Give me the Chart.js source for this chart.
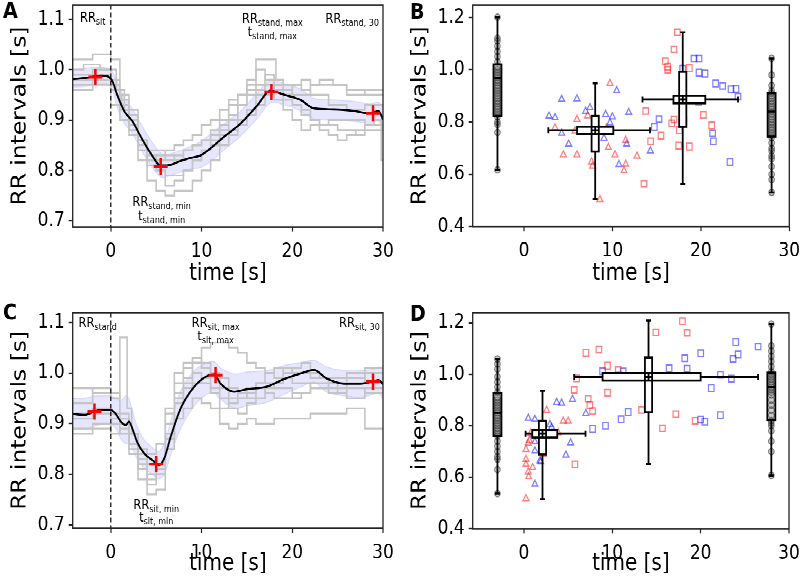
<!DOCTYPE html>
<html>
<head>
<meta charset="utf-8">
<script src="https://cdn.jsdelivr.net/npm/chart.js@4.4.1/dist/chart.umd.min.js"></script>
<style>
html, body { margin: 0; padding: 0; background: #fff; overflow: hidden; }
#fig { position: absolute; left: 0; top: 0; width: 800px; height: 500px; transform: scale(1, 1.168); transform-origin: 0 0; }
#fig canvas { position: absolute; }
</style>
</head>
<body>
<div id="fig">
<canvas id="chartA" width="400" height="248" style="left:0;top:0;width:400px;height:248px"></canvas>
<canvas id="chartB" width="400" height="248" style="left:400px;top:0;width:400px;height:248px"></canvas>
<canvas id="chartC" width="400" height="252" style="left:0;top:248px;width:400px;height:252px"></canvas>
<canvas id="chartD" width="400" height="252" style="left:400px;top:248px;width:400px;height:252px"></canvas>
</div>
<script>
Chart.defaults.font.family = "'DejaVu Sans', sans-serif";
Chart.defaults.color = '#000';

// ---------- panel A : sit -> stand, averaged RR curve
const aMeanX = [-4.2,-2.6,-1.1,-0.4,0.2,0.7,1.5,2.4,3.3,4.4,5.5,6.2,7.7,8.8,9.9,11.0,12.5,14.3,16.1,17.6,19.1,20.9,22.4,24.6,26.8,28.6,29.5,30];
const aMeanY = [0.981,0.984,0.988,0.987,0.976,0.950,0.917,0.897,0.867,0.834,0.810,0.810,0.819,0.825,0.830,0.844,0.867,0.893,0.928,0.958,0.950,0.940,0.923,0.921,0.918,0.913,0.918,0.901];
const aBandHi = [1.000,1.003,1.005,1.003,0.995,0.975,0.945,0.922,0.893,0.860,0.835,0.832,0.840,0.848,0.857,0.872,0.893,0.918,0.953,0.980,0.972,0.962,0.943,0.940,0.937,0.932,0.935,0.925];
const aBandLo = [0.965,0.967,0.972,0.972,0.958,0.925,0.893,0.873,0.842,0.810,0.787,0.788,0.797,0.803,0.806,0.818,0.841,0.868,0.902,0.934,0.930,0.918,0.902,0.900,0.897,0.893,0.898,0.880];
const aTraces = [
  [[-4.2,0.99],[-3,1.0],[-1.2,1.01],[0.6,1.0],[1.2,0.95],[2,0.93],[3,0.89],[4,0.84],[5,0.82],[6,0.83],[7,0.84],[8,0.85],[9,0.86],[10,0.87],[11,0.89],[12,0.9],[13,0.92],[14,0.94],[15,0.95],[16,0.97],[17,1.02],[18.2,1.02],[19,0.98],[20,0.96],[21,0.97],[22,0.98],[23,0.97],[24.5,0.98],[26,0.97],[28,0.96],[30,0.95]],
  [[-4.2,0.97],[-2,0.97],[0,0.97],[1,0.93],[2,0.90],[3,0.87],[4,0.82],[5,0.78],[6,0.76],[7,0.75],[8,0.76],[9,0.76],[10,0.78],[11,0.8],[12,0.82],[13,0.85],[14,0.87],[15,0.89],[16,0.91],[17,0.93],[18,0.95],[19,0.94],[20,0.92],[21,0.9],[22,0.88],[23,0.89],[24,0.88],[25,0.87],[26,0.86],[27,0.87],[28,0.88],[29,0.89],[29.8,0.9],[30,0.82]],
  [[-4.2,1.0],[-2,1.02],[0,1.03],[1,1.02],[1.5,0.96],[2,0.92],[3,0.9],[4,0.85],[5,0.83],[6,0.82],[7,0.83],[8,0.82],[9,0.84],[10,0.85],[11,0.86],[12,0.88],[13,0.9],[14,0.93],[15,0.95],[16,0.98],[17,1.0],[18,0.98],[19,0.96],[20,0.95],[21,0.97],[22,0.96],[24,0.95],[26,0.93],[28,0.92],[30,0.93]],
  [[-4.2,0.98],[-2,0.98],[0,0.99],[1,0.96],[2,0.92],[3,0.88],[4,0.84],[5,0.82],[6,0.8],[7,0.79],[8,0.79],[9,0.8],[10,0.82],[11,0.84],[12,0.85],[13,0.87],[14,0.88],[15,0.9],[16,0.92],[17,0.95],[18,0.97],[19,0.97],[20,0.95],[21,0.93],[22,0.91],[23,0.9],[24,0.89],[26,0.9],[28,0.9],[30,0.89]],
  [[-4.2,0.97],[-2,0.96],[0,0.98],[1,0.97],[2,0.94],[3,0.91],[4,0.86],[5,0.84],[6,0.84],[7,0.82],[8,0.83],[9,0.84],[10,0.85],[11,0.86],[12,0.87],[13,0.89],[14,0.91],[15,0.93],[16,0.95],[17,0.97],[18,0.99],[19,0.96],[20,0.94],[21,0.93],[22,0.92],[23,0.9],[25,0.89],[27,0.88],[28,0.87],[30,0.88]],
  [[-4.2,0.99],[-2,0.99],[0,1.0],[1,0.98],[2,0.95],[3,0.92],[4,0.86],[5,0.81],[6,0.8],[7,0.77],[8,0.78],[9,0.8],[10,0.82],[11,0.84],[12,0.86],[13,0.88],[14,0.9],[15,0.93],[16,0.96],[17,0.96],[18,0.95],[19,0.97],[20,0.97],[21,0.95],[22,0.95],[24,0.97],[26,0.97],[28,0.95],[30,0.96]]
];
const aMarkX = [-1.7, 5.5, 17.7, 28.9];
const aMarkY = [0.985, 0.808, 0.956, 0.913];
const aNotes = [
  {x: -2.0, y: 1.104, main: 'RR', sub: 'sit'},
  {x: 17.8, y: 1.102, main: 'RR', sub: 'stand, max'},
  {x: 17.8, y: 1.076, main: 't', sub: 'stand, max'},
  {x: 26.6, y: 1.102, main: 'RR', sub: 'stand, 30'},
  {x: 5.6, y: 0.739, main: 'RR', sub: 'stand, min'},
  {x: 5.6, y: 0.711, main: 't', sub: 'stand, min'}
];

// ---------- panel C : stand -> sit, averaged RR curve
const cMeanX = [-4.2,-2.9,-1.8,-1.1,0,0.55,1.1,1.65,2.0,2.4,2.9,3.7,4.8,5.3,5.9,6.6,7.7,9.2,10.6,11.4,12.1,13.6,15.0,17.2,19.1,20.9,22.4,23.8,25.7,27.5,29.0,29.5,30];
const cMeanY = [0.919,0.917,0.924,0.927,0.927,0.919,0.904,0.897,0.904,0.889,0.864,0.841,0.825,0.818,0.832,0.874,0.930,0.973,0.994,0.997,0.979,0.963,0.968,0.973,0.988,0.999,1.006,0.989,0.979,0.979,0.984,0.986,0.978];
const cBandHi = [0.950,0.950,0.955,0.955,0.955,0.950,0.945,0.955,0.950,0.925,0.895,0.868,0.850,0.845,0.862,0.905,0.965,1.005,1.020,1.022,1.010,0.998,1.002,1.005,1.015,1.020,1.025,1.012,1.005,1.005,1.008,1.012,1.008];
const cBandLo = [0.890,0.888,0.895,0.898,0.898,0.890,0.870,0.860,0.862,0.850,0.830,0.812,0.796,0.790,0.800,0.838,0.890,0.935,0.958,0.960,0.948,0.930,0.935,0.942,0.958,0.972,0.982,0.962,0.955,0.952,0.958,0.960,0.950];
const cTraces = [
  [[-4.2,0.96],[-2,0.97],[0,0.96],[1,0.95],[1.8,1.07],[2.3,0.93],[3,0.88],[4,0.85],[5,0.84],[6,0.86],[7,0.93],[8,0.98],[9,1.01],[10,1.02],[11,1.05],[12,1.06],[13,1.06],[14,1.05],[15,1.04],[16,1.02],[17,1.01],[18,1.0],[19,0.99],[20,1.01],[22,1.0],[24,0.99],[26,0.98],[28,0.99],[30,1.0]],
  [[-4.2,0.89],[-2,0.88],[0,0.89],[1,0.9],[2,0.88],[3,0.84],[4,0.79],[5,0.76],[6,0.77],[7,0.85],[8,0.91],[9,0.93],[10,0.95],[11,0.94],[12,0.93],[13,0.9],[14,0.89],[15,0.9],[16,0.91],[18,0.9],[20,0.91],[22,0.91],[24,0.92],[26,0.92],[28,0.93],[29.5,0.89],[30,0.89]],
  [[-4.2,0.93],[-2,0.94],[0,0.97],[1,0.96],[2,0.92],[3,0.86],[4,0.82],[5,0.79],[6,0.81],[7,0.92],[8,1.0],[9,1.02],[10,1.03],[11,1.02],[12,1.0],[13,0.97],[14,0.95],[15,0.96],[16,0.97],[18,0.98],[20,0.97],[21,0.95],[22,0.96],[24,0.97],[26,0.96],[28,0.97],[30,0.96]],
  [[-4.2,0.91],[-2,0.92],[0,0.92],[1,0.91],[2,0.9],[3,0.85],[4,0.83],[5,0.8],[6,0.82],[7,0.9],[8,0.96],[9,0.99],[10,1.0],[11,0.98],[12,0.96],[13,0.93],[14,0.94],[15,0.95],[16,0.96],[17,0.98],[18,1.0],[19,1.01],[20,1.0],[21,1.01],[22,1.02],[23,1.0],[24,0.99],[26,0.97],[28,0.98],[30,1.01]],
  [[-4.2,0.88],[-2,0.89],[0,0.9],[1,0.88],[2,0.89],[3,0.86],[4,0.81],[5,0.78],[6,0.8],[7,0.88],[8,0.95],[9,0.97],[10,0.98],[11,0.99],[12,0.97],[13,0.95],[14,0.93],[15,0.92],[16,0.94],[17,0.95],[18,0.97],[19,0.98],[20,0.99],[22,0.98],[24,0.97],[25,0.98],[26,0.96],[28,0.95],[30,0.97]],
  [[-4.2,0.92],[-2,0.91],[0,0.93],[1,0.92],[2,0.91],[3,0.88],[4,0.84],[5,0.82],[6,0.8],[7,0.87],[8,0.94],[9,0.98],[10,1.02],[11,1.01],[12,1.0],[13,0.99],[14,0.97],[15,0.96],[16,0.95],[17,0.97],[18,0.96],[20,0.95],[22,0.96],[24,0.98],[26,0.99],[28,1.0],[30,0.98]]
];
const cMarkX = [-1.8, 5.0, 11.55, 28.9];
const cMarkY = [0.924, 0.820, 0.996, 0.983];
const cNotes = [
  {x: -1.45, y: 1.100, main: 'RR', sub: 'stand'},
  {x: 11.55, y: 1.100, main: 'RR', sub: 'sit, max'},
  {x: 11.55, y: 1.073, main: 't', sub: 'sit, max'},
  {x: 27.4, y: 1.100, main: 'RR', sub: 'sit, 30'},
  {x: 5.0, y: 0.740, main: 'RR', sub: 'sit, min'},
  {x: 5.0, y: 0.716, main: 't', sub: 'sit, min'}
];

// ---------- panel B : individual extrema after standing up
const bRedTriX = [3.51,4.45,5.77,5.99,5.99,7.2,7.65,7.76,8.59,9.35,9.54,9.72,10.29,11.31,11.5,11.5,12.78];
const bRedTriY = [0.778,0.675,0.766,0.675,0.810,0.824,0.648,0.632,0.504,0.778,0.703,0.948,0.675,0.614,0.639,0.730,0.670];
const bBlueTriX = [2.83,3.51,4.26,4.26,5.05,5.99,6.97,7.46,7.99,9.05,9.23,9.72,9.99,10.48,10.74,11.61,11.84,14.29];
const bBlueTriY = [0.823,0.817,0.887,0.757,0.716,0.889,0.841,0.855,0.716,0.738,0.829,0.797,0.820,0.920,0.638,0.716,0.837,0.690];
const bRedSqX = [13.76,14.32,13.57,15.49,15.98,16.25,16.25,16.7,16.96,16.96,17.34,17.49,17.56,17.83,17.87,18.7,18.7,19.15,20.28,21.22];
const bRedSqY = [0.842,0.726,0.564,0.748,1.032,1.011,0.999,0.795,0.810,1.078,1.143,0.710,0.769,0.971,0.961,1.006,0.706,0.887,0.827,0.787];
const bBlueSqX = [14.74,15.27,17.94,18.09,17.94,19.22,19.79,19.79,20.47,21.67,22.46,23.41,23.97,24.2,21.33,21.41,23.29,19.75];
const bBlueSqY = [0.781,0.811,0.866,0.809,1.004,1.042,1.042,0.989,0.985,0.947,0.938,0.925,0.926,0.897,0.757,0.726,0.647,0.878];
const bSitRR = [0.617,0.76,0.79,0.80,0.82,0.83,0.84,0.85,0.86,0.87,0.88,0.89,0.90,0.91,0.92,0.93,0.94,0.95,0.96,0.97,0.98,0.99,1.0,1.01,1.03,1.05,1.07,1.09,1.11,1.12,1.2];
const bEndRR = [0.531,0.58,0.60,0.63,0.66,0.67,0.69,0.70,0.72,0.74,0.75,0.76,0.77,0.78,0.79,0.80,0.81,0.82,0.83,0.84,0.85,0.86,0.87,0.88,0.89,0.90,0.91,0.92,0.94,0.98,1.043];
const bSitBox = {at: -3, lo: 0.617, q1: 0.823, med: 0.969, q3: 1.020, hi: 1.2};
const bEndBox = {at: 28, lo: 0.531, q1: 0.744, med: 0.84, q3: 0.910, hi: 1.043};
const bMinCross = {t: {lo: 2.75, q1: 6.0, med: 8.05, q3: 10.1, hi: 14.25}, rr: {lo: 0.506, q1: 0.687, med: 0.768, q3: 0.823, hi: 0.948}};
const bMaxCross = {t: {lo: 13.4, q1: 16.9, med: 17.95, q3: 20.5, hi: 24.2}, rr: {lo: 0.564, q1: 0.782, med: 0.886, q3: 0.992, hi: 1.143}};

// ---------- panel D : individual extrema after sitting down
const dRedTriX = [0.23,0.53,0.49,0.98,0.23,0.23,0.23,0.49,0.6,0.76,2.57,4.45,5.01,3.88,2.19];
const dRedTriY = [0.517,0.602,0.621,0.638,0.650,0.670,0.708,0.732,0.744,0.771,0.860,0.818,0.818,0.773,0.688];
const dBlueTriX = [0.49,1.24,3.7,4.26,5.5,7.01,2.94,3.13,1.05,1.24,1.24,1.81,1.9,5.28,4.75,1.24,3.3];
const dBlueTriY = [0.829,0.825,0.891,0.888,0.903,0.848,0.805,0.794,0.764,0.738,0.703,0.664,0.660,0.734,0.686,0.573,0.77];
const dRedSqX = [5.96,5.69,7.27,7.46,7.77,9.46,5.77,7.01,8.48,9.46,10.67,10.74,14.93,17.94,18.47,13.31,15.68,17.19,19.37];
const dRedSqY = [0.984,0.939,0.905,0.880,0.857,0.928,0.650,1.083,1.096,1.033,1.016,0.995,1.162,1.206,1.161,0.861,0.790,0.845,0.819];
const dBlueSqX = [8.9,11.23,9.23,11.0,11.8,7.77,16.43,18.2,18.47,20.01,21.2,22.24,23.48,23.67,23.97,24.24,26.5,20.0,20.47,22.24];
const dBlueSqY = [1.012,1.011,0.800,0.825,0.853,0.788,1.023,1.062,1.021,1.081,0.946,0.998,0.983,1.059,1.125,1.077,1.107,0.824,0.816,0.841];
const dSitRR = [0.537,0.63,0.67,0.68,0.70,0.72,0.74,0.76,0.77,0.78,0.79,0.80,0.81,0.82,0.83,0.84,0.85,0.86,0.87,0.88,0.89,0.90,0.91,0.93,0.95,0.97,0.99,1.02,1.04,1.059];
const dEndRR = [0.607,0.70,0.74,0.78,0.80,0.81,0.82,0.84,0.86,0.88,0.90,0.92,0.93,0.94,0.95,0.96,0.97,0.98,0.99,1.0,1.01,1.03,1.05,1.07,1.09,1.11,1.195];
const dSitBox = {at: -3, lo: 0.537, q1: 0.760, med: 0.85, q3: 0.926, hi: 1.059};
const dEndBox = {at: 28, lo: 0.607, q1: 0.822, med: 0.95, q3: 1.006, hi: 1.195};
const dMinCross = {t: {lo: 0.19, q1: 0.94, med: 2.1, q3: 3.77, hi: 6.97}, rr: {lo: 0.514, q1: 0.689, med: 0.769, q3: 0.819, hi: 0.936}};
const dMaxCross = {t: {lo: 5.69, q1: 8.9, med: 14.1, q3: 20.0, hi: 26.5}, rr: {lo: 0.651, q1: 0.852, med: 0.990, q3: 1.065, hi: 1.208}};

// tick labels
const timeTicks = [0, 10, 20, 30];
const curveRRTicks = [0.7, 0.8, 0.9, 1.0, 1.1];
const scatterRRTicks = [0.4, 0.6, 0.8, 1.0, 1.2];

// ---------- helpers
function zip(xs, ys) { return xs.map((x, i) => ({x: x, y: ys[i]})); }
function pairs(p) { return p.map(v => ({x: v[0], y: v[1]})); }

function drawVBox(ctx, xs, ys, b) {
  const x = xs.getPixelForValue(b.at);
  const lo = ys.getPixelForValue(b.lo), hi = ys.getPixelForValue(b.hi);
  const q1 = ys.getPixelForValue(b.q1), q3 = ys.getPixelForValue(b.q3), med = ys.getPixelForValue(b.med);
  const hw = 4, cap = 2.5;
  ctx.beginPath();
  ctx.moveTo(x, lo); ctx.lineTo(x, q1);
  ctx.moveTo(x, q3); ctx.lineTo(x, hi);
  ctx.moveTo(x - cap, lo); ctx.lineTo(x + cap, lo);
  ctx.moveTo(x - cap, hi); ctx.lineTo(x + cap, hi);
  ctx.moveTo(x - hw, med); ctx.lineTo(x + hw, med);
  ctx.stroke();
  ctx.strokeRect(x - hw, q3, 2 * hw, q1 - q3);
}

function drawCross(ctx, xs, ys, c) {
  const cx = xs.getPixelForValue(c.t.med), cy = ys.getPixelForValue(c.rr.med);
  const tLo = xs.getPixelForValue(c.t.lo), tQ1 = xs.getPixelForValue(c.t.q1);
  const tQ3 = xs.getPixelForValue(c.t.q3), tHi = xs.getPixelForValue(c.t.hi);
  const rLo = ys.getPixelForValue(c.rr.lo), rQ1 = ys.getPixelForValue(c.rr.q1);
  const rQ3 = ys.getPixelForValue(c.rr.q3), rHi = ys.getPixelForValue(c.rr.hi);
  const hw = 3.6, hh = 3.2, cap = 2.5;
  ctx.beginPath();
  ctx.moveTo(tLo, cy); ctx.lineTo(tQ1, cy);
  ctx.moveTo(tQ3, cy); ctx.lineTo(tHi, cy);
  ctx.moveTo(tLo, cy - cap); ctx.lineTo(tLo, cy + cap);
  ctx.moveTo(tHi, cy - cap); ctx.lineTo(tHi, cy + cap);
  ctx.moveTo(cx, rLo); ctx.lineTo(cx, rQ1);
  ctx.moveTo(cx, rQ3); ctx.lineTo(cx, rHi);
  ctx.moveTo(cx - cap, rLo); ctx.lineTo(cx + cap, rLo);
  ctx.moveTo(cx - cap, rHi); ctx.lineTo(cx + cap, rHi);
  ctx.stroke();
  ctx.fillStyle = '#fff';
  ctx.fillRect(tQ1, cy - hh, tQ3 - tQ1, 2 * hh);
  ctx.fillRect(cx - hw, rQ3, 2 * hw, rQ1 - rQ3);
  ctx.strokeRect(tQ1, cy - hh, tQ3 - tQ1, 2 * hh);
  ctx.strokeRect(cx - hw, rQ3, 2 * hw, rQ1 - rQ3);
  ctx.beginPath();
  ctx.moveTo(cx, cy - hh); ctx.lineTo(cx, cy + hh);
  ctx.moveTo(cx - hw, cy); ctx.lineTo(cx + hw, cy);
  ctx.stroke();
}

function drawNote(ctx, xs, ys, n) {
  const mainFont = "11.5px 'DejaVu Sans'", subFont = "8px 'DejaVu Sans'";
  ctx.font = mainFont;
  const wm = ctx.measureText(n.main).width;
  ctx.font = subFont;
  const ws = ctx.measureText(n.sub).width;
  const x0 = xs.getPixelForValue(n.x) - (wm + ws) / 2;
  const base = ys.getPixelForValue(n.y) + 4;
  ctx.fillStyle = '#000';
  ctx.textAlign = 'left';
  ctx.textBaseline = 'alphabetic';
  ctx.font = mainFont;
  ctx.fillText(n.main, x0, base);
  ctx.font = subFont;
  ctx.fillText(n.sub, x0 + wm, base + 2.5);
}

function makeDecor(cfg) {
  return {
    id: 'decor',
    afterDatasetsDraw(chart) {
      const {ctx, chartArea: ca, scales: {x, y}} = chart;
      ctx.save();
      ctx.strokeStyle = '#000';
      if (cfg.eventX !== undefined) {
        const px = x.getPixelForValue(cfg.eventX);
        ctx.lineWidth = 1.2;
        ctx.setLineDash([4, 2.5]);
        ctx.beginPath(); ctx.moveTo(px, ca.top); ctx.lineTo(px, ca.bottom); ctx.stroke();
        ctx.setLineDash([]);
      }
      ctx.lineWidth = 1.8;
      (cfg.boxes || []).forEach(b => drawVBox(ctx, x, y, b));
      (cfg.crosses || []).forEach(c => drawCross(ctx, x, y, c));
      ctx.lineWidth = 1.3;
      ctx.strokeStyle = '#222';
      ctx.strokeRect(ca.left, ca.top, ca.right - ca.left, ca.bottom - ca.top);
      ctx.restore();
    },
    afterDraw(chart) {
      const {ctx, scales: {x, y}} = chart;
      ctx.save();
      (cfg.notes || []).forEach(n => drawNote(ctx, x, y, n));
      ctx.font = "bold 19px 'DejaVu Sans'";
      ctx.fillStyle = '#000';
      ctx.textAlign = 'left';
      ctx.textBaseline = 'alphabetic';
      ctx.fillText(cfg.letter, cfg.letterX, cfg.letterY + 7);
      ctx.restore();
    }
  };
}

function makeScales(o) {
  return {
    x: {
      type: 'linear', min: o.xMin, max: o.xMax,
      afterBuildTicks: s => { s.ticks = timeTicks.map(v => ({value: v})); },
      afterFit: s => { s.height = o.xH; s.paddingLeft = 0; s.paddingRight = 0; },
      grid: {display: true, drawOnChartArea: false, tickLength: 4, tickWidth: 1.2, tickColor: '#222'},
      border: {display: false},
      ticks: {font: {size: 17}, padding: 7, maxRotation: 0, autoSkip: false, color: '#000', callback: v => String(v)},
      title: {display: true, text: 'time [s]', font: {size: 20}, color: '#000', padding: {top: 0, bottom: o.xTitlePad}}
    },
    y: {
      type: 'linear', min: o.yMin, max: o.yMax,
      afterBuildTicks: s => { s.ticks = o.yTicks.map(v => ({value: v})); },
      afterFit: s => { s.width = 72.7; s.paddingTop = 0; s.paddingBottom = 0; },
      grid: {display: true, drawOnChartArea: false, tickLength: 4, tickWidth: 1.2, tickColor: '#222'},
      border: {display: false},
      ticks: {font: {size: 17}, padding: 4, autoSkip: false, color: '#000', callback: v => v.toFixed(1)},
      title: {display: true, text: 'RR intervals [s]', font: {size: 20}, color: '#000', padding: {top: 8.5, bottom: 0}}
    }
  };
}

function baseOptions(o) {
  return {
    responsive: false,
    devicePixelRatio: 2,
    animation: false,
    events: [],
    layout: {autoPadding: false, padding: {left: 0, top: o.top, right: o.right, bottom: 0}},
    plugins: {legend: {display: false}, tooltip: {enabled: false}},
    elements: {point: {radius: 0}},
    scales: makeScales(o)
  };
}

function curveDatasets(meanX, meanY, hi, lo, traces, markX, markY) {
  const sets = [];
  sets.push({data: zip(markX, markY), showLine: false, pointStyle: 'cross', pointRadius: 7,
    pointBorderColor: '#ff0000', pointBorderWidth: 2.5, order: 0});
  sets.push({data: zip(meanX, meanY), borderColor: '#000', borderWidth: 1.8, tension: 0.3,
    cubicInterpolationMode: 'monotone', fill: false, order: 1});
  traces.forEach(t => sets.push({data: pairs(t), borderColor: '#c4c4c4', borderWidth: 1.6,
    stepped: 'after', fill: false, order: 2}));
  sets.push({data: zip(meanX, hi), borderColor: 'rgba(90,90,255,0.15)', borderWidth: 1, tension: 0.3,
    fill: '+1', backgroundColor: 'rgba(60,60,255,0.13)', order: 5});
  sets.push({data: zip(meanX, lo), borderColor: 'rgba(90,90,255,0.15)', borderWidth: 1, tension: 0.3,
    fill: false, order: 6});
  return sets;
}

function scatterDatasets(rt, bt, rs, bs, sitRR, endRR, sitAt, endAt) {
  const red = 'rgba(255,0,0,0.5)', blue = 'rgba(0,0,255,0.5)';
  const mk = (data, style, col, r) => ({data: data, showLine: false, pointStyle: style, pointRadius: r,
    pointBorderColor: col, pointBackgroundColor: 'rgba(255,255,255,0)', pointBorderWidth: 1.2, order: 1});
  const gray = data => ({data: data, showLine: false, pointStyle: 'circle', pointRadius: 2.8,
    pointBorderColor: 'rgba(40,40,40,0.55)', pointBackgroundColor: 'rgba(110,110,110,0.35)', pointBorderWidth: 1, order: 2});
  return [
    mk(rt, 'triangle', red, 3.4), mk(bt, 'triangle', blue, 3.4),
    mk(rs, 'rect', red, 3.9), mk(bs, 'rect', blue, 3.9),
    gray(sitRR.map(v => ({x: sitAt, y: v}))), gray(endRR.map(v => ({x: endAt, y: v})))
  ];
}

// ---------- charts
new Chart(document.getElementById('chartA'), {
  type: 'line',
  data: {datasets: curveDatasets(aMeanX, aMeanY, aBandHi, aBandLo, aTraces, aMarkX, aMarkY)},
  options: baseOptions({xMin: -4.2, xMax: 30, yMin: 0.688, yMax: 1.128, yTicks: curveRRTicks,
    top: 4.3, right: 17, xH: 53.7, xTitlePad: 1.8}),
  plugins: [makeDecor({letter: 'A', letterX: 3, letterY: 8, eventX: 0, notes: aNotes})]
});

new Chart(document.getElementById('chartB'), {
  type: 'line',
  data: {datasets: scatterDatasets(zip(bRedTriX, bRedTriY), zip(bBlueTriX, bBlueTriY), zip(bRedSqX, bRedSqY),
    zip(bBlueSqX, bBlueSqY), bSitRR, bEndRR, bSitBox.at, bEndBox.at)},
  options: baseOptions({xMin: -5.8, xMax: 30, yMin: 0.4, yMax: 1.247, yTicks: scatterRRTicks,
    top: 4.3, right: 10.7, xH: 53.9, xTitlePad: 1.8}),
  plugins: [makeDecor({letter: 'B', letterX: 10, letterY: 8.8, boxes: [bSitBox, bEndBox], crosses: [bMinCross, bMaxCross]})]
});

new Chart(document.getElementById('chartC'), {
  type: 'line',
  data: {datasets: curveDatasets(cMeanX, cMeanY, cBandHi, cBandLo, cTraces, cMarkX, cMarkY)},
  options: baseOptions({xMin: -4.2, xMax: 30, yMin: 0.6935, yMax: 1.119, yTicks: curveRRTicks,
    top: 19.7, right: 17, xH: 47.7, xTitlePad: 5}),
  plugins: [makeDecor({letter: 'C', letterX: 3, letterY: 18.7, eventX: 0, notes: cNotes})]
});

new Chart(document.getElementById('chartD'), {
  type: 'line',
  data: {datasets: scatterDatasets(zip(dRedTriX, dRedTriY), zip(dBlueTriX, dBlueTriY), zip(dRedSqX, dRedSqY),
    zip(dBlueSqX, dBlueSqY), dSitRR, dEndRR, dSitBox.at, dEndBox.at)},
  options: baseOptions({xMin: -5.8, xMax: 30, yMin: 0.4, yMax: 1.239, yTicks: scatterRRTicks,
    top: 19.7, right: 11, xH: 47.3, xTitlePad: 5}),
  plugins: [makeDecor({letter: 'D', letterX: 10, letterY: 19.5, boxes: [dSitBox, dEndBox], crosses: [dMinCross, dMaxCross]})]
});
</script>
</body>
</html>
